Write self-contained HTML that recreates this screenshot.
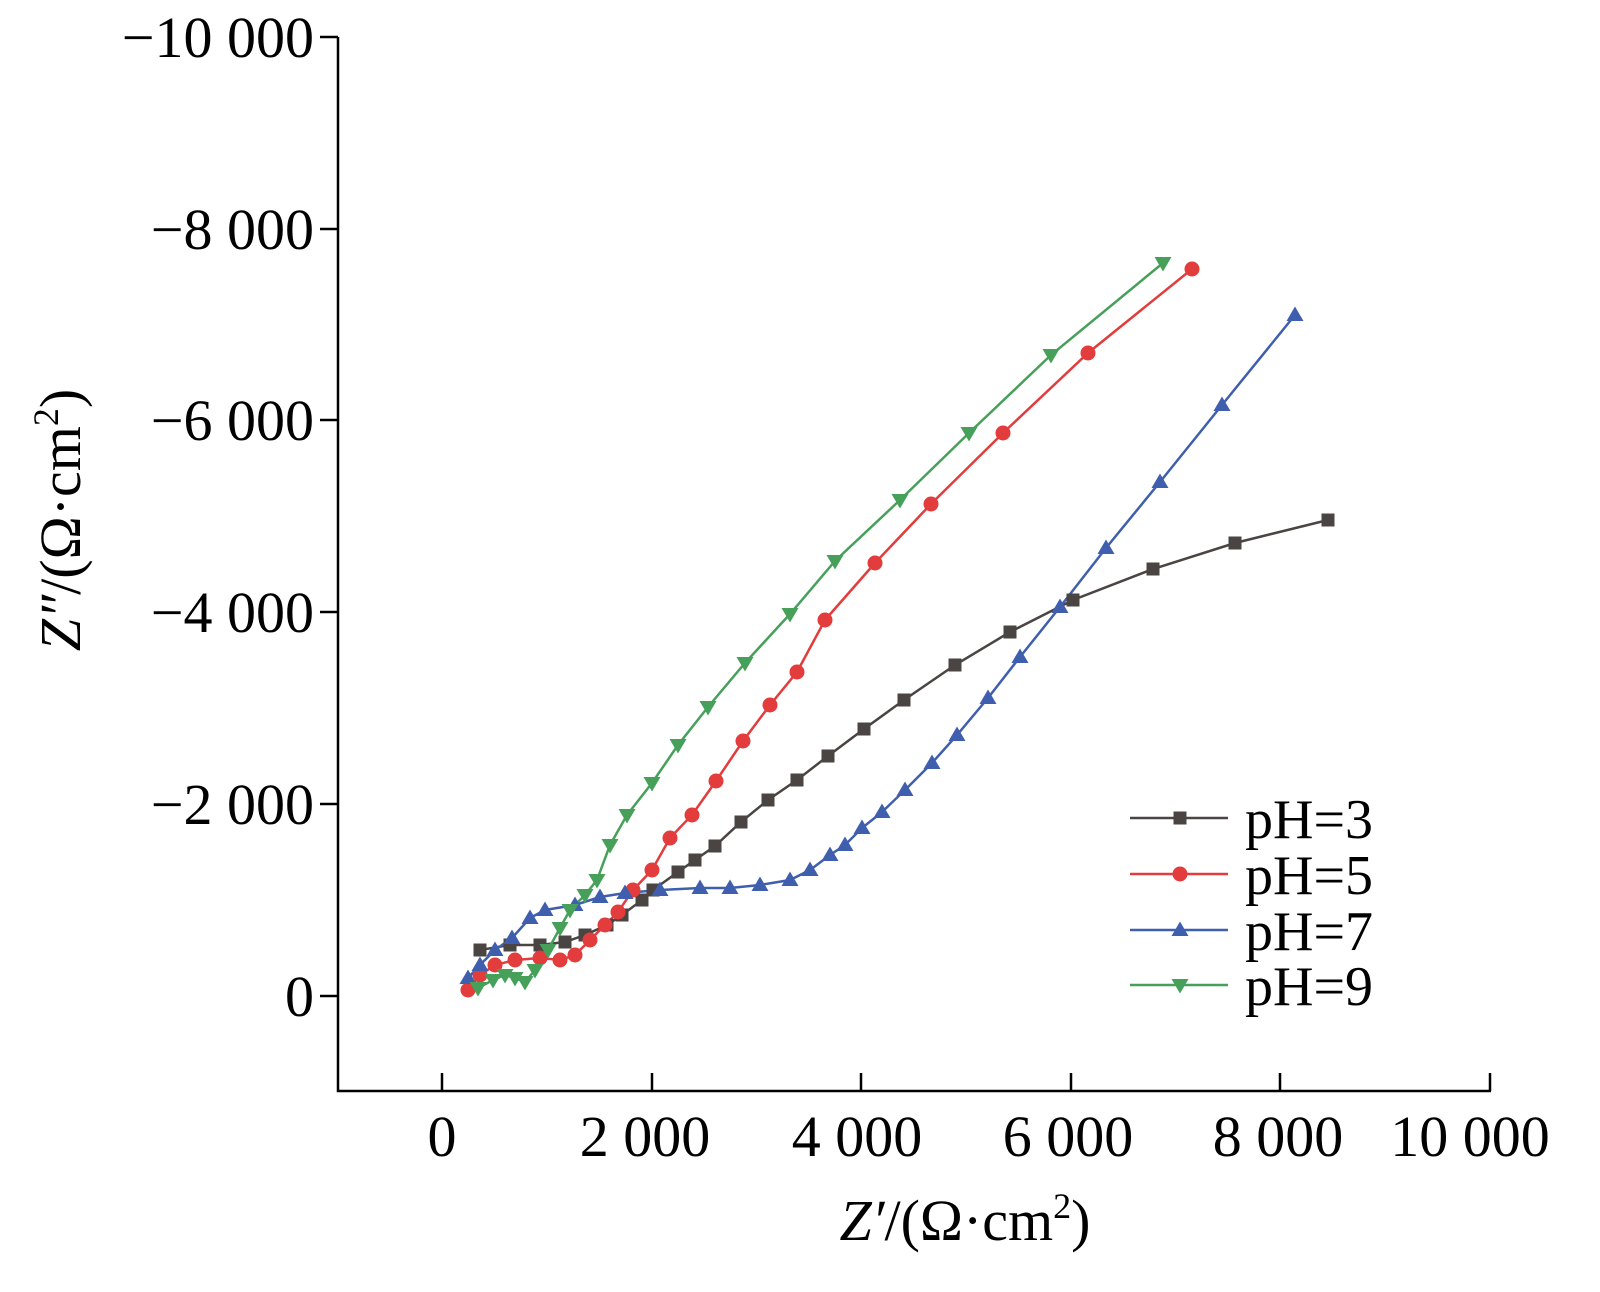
<!DOCTYPE html><html><head><style>body{margin:0;background:#fff}</style></head><body>
<svg width="1600" height="1287" xmlns="http://www.w3.org/2000/svg" font-family="Liberation Serif, serif">
<defs>
<rect id="sq" x="-6.5" y="-6.5" width="13" height="13" fill="#4a4443"/>
<circle id="ci" r="7.5" fill="#e23c3c"/>
<path id="tu" d="M0,-8.5L8.5,6H-8.5Z" fill="#3f5fae"/>
<path id="td" d="M0,8.5L8.5,-6H-8.5Z" fill="#46a05a"/>
</defs>
<g stroke="#000" stroke-width="2.5" fill="none">
<path d="M338,37V1091H1491"/>
<path d="M338,37h-18M338,229h-18M338,420h-18M338,612h-18M338,804h-18M338,996h-18"/>
<path d="M442,1091v-18M652,1091v-18M861,1091v-18M1071,1091v-18M1280,1091v-18M1490,1091v-18"/>
</g>
<g font-size="58" text-anchor="end" fill="#000">
<text x="314" y="57">−10 000</text><text x="314" y="249">−8 000</text><text x="314" y="440">−6 000</text><text x="314" y="632">−4 000</text><text x="314" y="824">−2 000</text><text x="314" y="1016">0</text>
</g>
<g font-size="58" text-anchor="middle" fill="#000">
<text x="442" y="1156">0</text><text x="645" y="1156">2 000</text><text x="857" y="1156">4 000</text><text x="1068" y="1156">6 000</text><text x="1278" y="1156">8 000</text><text x="1470" y="1156">10 000</text>
<text x="965" y="1240"><tspan font-style="italic">Z′</tspan>/(Ω·cm<tspan font-size="36" dy="-22">2</tspan><tspan dy="22">)</tspan></text>
<text transform="translate(80,520) rotate(-90)"><tspan font-style="italic">Z″</tspan>/(Ω·cm<tspan font-size="36" dy="-22">2</tspan><tspan dy="22">)</tspan></text>
</g>
<g fill="none" stroke-width="2.5">
<polyline stroke="#4a4443" points="480,950 510,945 540,945 565,942 585,935 607,925 622,915 642,900 653,890 678,872 695,860 715,846 741,822 768,800 797,780 828,756 864,729 904,700 955,665 1010,632 1073,600 1153,569 1235,543 1328,520"/>
<polyline stroke="#e23c3c" points="468,990 480,975 495,965 515,960 540,958 560,960 575,955 590,940 605,925 618,912 633,890 652,870 670,838 692,815 716,781 743,741 770,705 797,672 825,620 875,563 931,504 1003,433 1088,353 1192,269"/>
<polyline stroke="#3f5fae" points="468,978 480,965 495,950 512,938 530,918 545,910 575,905 600,897 625,893 660,890 700,888 730,888 760,885 790,880 810,870 830,855 845,845 862,828 882,812 905,790 932,763 957,735 988,698 1020,657 1060,607 1106,548 1160,482 1222,405 1295,315"/>
<polyline stroke="#46a05a" points="478,988 493,980 505,975 515,978 525,982 535,970 548,950 560,928 570,910 585,895 597,880 610,845 627,815 652,783 678,745 708,707 745,663 790,614 835,561 900,500 969,433 1051,355 1163,263"/>
</g>
<g>
<use href="#sq" x="480" y="950"/><use href="#sq" x="510" y="945"/><use href="#sq" x="540" y="945"/><use href="#sq" x="565" y="942"/><use href="#sq" x="585" y="935"/><use href="#sq" x="607" y="925"/><use href="#sq" x="622" y="915"/><use href="#sq" x="642" y="900"/><use href="#sq" x="653" y="890"/><use href="#sq" x="678" y="872"/><use href="#sq" x="695" y="860"/><use href="#sq" x="715" y="846"/><use href="#sq" x="741" y="822"/><use href="#sq" x="768" y="800"/><use href="#sq" x="797" y="780"/><use href="#sq" x="828" y="756"/><use href="#sq" x="864" y="729"/><use href="#sq" x="904" y="700"/><use href="#sq" x="955" y="665"/><use href="#sq" x="1010" y="632"/><use href="#sq" x="1073" y="600"/><use href="#sq" x="1153" y="569"/><use href="#sq" x="1235" y="543"/><use href="#sq" x="1328" y="520"/>
<use href="#ci" x="468" y="990"/><use href="#ci" x="480" y="975"/><use href="#ci" x="495" y="965"/><use href="#ci" x="515" y="960"/><use href="#ci" x="540" y="958"/><use href="#ci" x="560" y="960"/><use href="#ci" x="575" y="955"/><use href="#ci" x="590" y="940"/><use href="#ci" x="605" y="925"/><use href="#ci" x="618" y="912"/><use href="#ci" x="633" y="890"/><use href="#ci" x="652" y="870"/><use href="#ci" x="670" y="838"/><use href="#ci" x="692" y="815"/><use href="#ci" x="716" y="781"/><use href="#ci" x="743" y="741"/><use href="#ci" x="770" y="705"/><use href="#ci" x="797" y="672"/><use href="#ci" x="825" y="620"/><use href="#ci" x="875" y="563"/><use href="#ci" x="931" y="504"/><use href="#ci" x="1003" y="433"/><use href="#ci" x="1088" y="353"/><use href="#ci" x="1192" y="269"/>
<use href="#tu" x="468" y="978"/><use href="#tu" x="480" y="965"/><use href="#tu" x="495" y="950"/><use href="#tu" x="512" y="938"/><use href="#tu" x="530" y="918"/><use href="#tu" x="545" y="910"/><use href="#tu" x="575" y="905"/><use href="#tu" x="600" y="897"/><use href="#tu" x="625" y="893"/><use href="#tu" x="660" y="890"/><use href="#tu" x="700" y="888"/><use href="#tu" x="730" y="888"/><use href="#tu" x="760" y="885"/><use href="#tu" x="790" y="880"/><use href="#tu" x="810" y="870"/><use href="#tu" x="830" y="855"/><use href="#tu" x="845" y="845"/><use href="#tu" x="862" y="828"/><use href="#tu" x="882" y="812"/><use href="#tu" x="905" y="790"/><use href="#tu" x="932" y="763"/><use href="#tu" x="957" y="735"/><use href="#tu" x="988" y="698"/><use href="#tu" x="1020" y="657"/><use href="#tu" x="1060" y="607"/><use href="#tu" x="1106" y="548"/><use href="#tu" x="1160" y="482"/><use href="#tu" x="1222" y="405"/><use href="#tu" x="1295" y="315"/>
<use href="#td" x="478" y="988"/><use href="#td" x="493" y="980"/><use href="#td" x="505" y="975"/><use href="#td" x="515" y="978"/><use href="#td" x="525" y="982"/><use href="#td" x="535" y="970"/><use href="#td" x="548" y="950"/><use href="#td" x="560" y="928"/><use href="#td" x="570" y="910"/><use href="#td" x="585" y="895"/><use href="#td" x="597" y="880"/><use href="#td" x="610" y="845"/><use href="#td" x="627" y="815"/><use href="#td" x="652" y="783"/><use href="#td" x="678" y="745"/><use href="#td" x="708" y="707"/><use href="#td" x="745" y="663"/><use href="#td" x="790" y="614"/><use href="#td" x="835" y="561"/><use href="#td" x="900" y="500"/><use href="#td" x="969" y="433"/><use href="#td" x="1051" y="355"/><use href="#td" x="1163" y="263"/>
</g>
<g stroke-width="2.5" font-size="56" fill="#000">
<line x1="1130" x2="1228" y1="818" y2="818" stroke="#4a4443"/><use href="#sq" x="1180" y="818"/><text x="1245" y="838">pH=3</text>
<line x1="1130" x2="1228" y1="874" y2="874" stroke="#e23c3c"/><use href="#ci" x="1180" y="874"/><text x="1245" y="894">pH=5</text>
<line x1="1130" x2="1228" y1="930" y2="930" stroke="#3f5fae"/><use href="#tu" x="1180" y="930"/><text x="1245" y="950">pH=7</text>
<line x1="1130" x2="1228" y1="985" y2="985" stroke="#46a05a"/><use href="#td" x="1180" y="985"/><text x="1245" y="1005">pH=9</text>
</g>
</svg></body></html>
